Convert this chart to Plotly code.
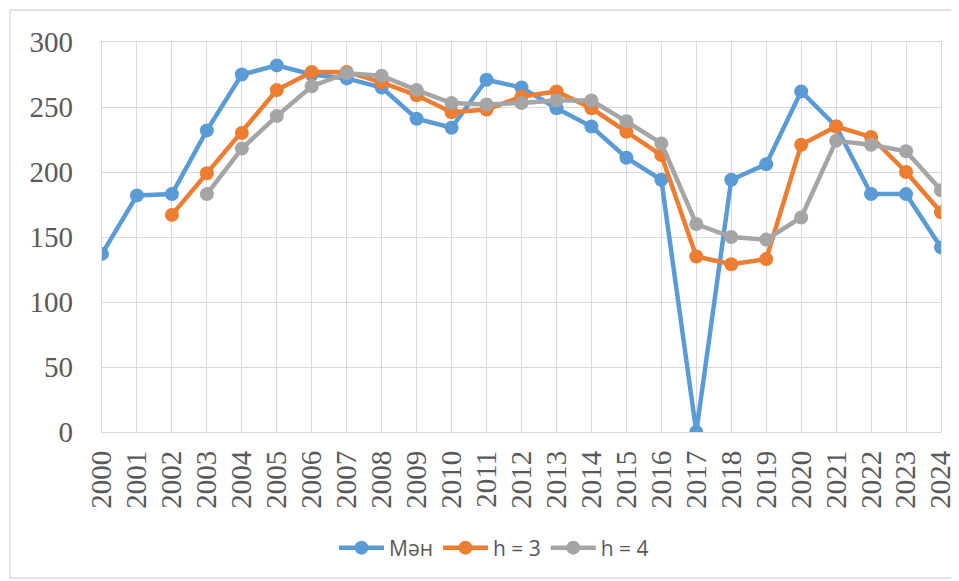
import plotly.graph_objects as go

years = list(range(2000, 2025))
year_labels = [str(y) for y in years]

man = [137, 182, 183, 232, 275, 282, 275, 272, 265, 241, 234, 271, 265, 249, 235, 211, 194,
       0, 194, 206, 262, 235, 183, 183, 142]
h3 = [None, None, 167, 199, 230, 263, 277, 277, 269, 259, 246, 248, 258, 262, 249, 231, 213,
      135, 129, 133, 221, 235, 227, 200, 169]
h4 = [None, None, None, 183, 218, 243, 266, 276, 274, 263, 253, 252, 253, 255, 255, 239, 222,
      160, 150, 148, 165, 224, 221, 216, 186]

series_names = ["Мән", "h = 3", "h = 4"]
series_colors = ["#5B9BD5", "#ED7D31", "#A5A5A5"]
y_ticks = [0, 50, 100, 150, 200, 250, 300]

fig = go.Figure()
for name, vals, col in zip(series_names, [man, h3, h4], series_colors):
    fig.add_trace(go.Scatter(
        x=years, y=vals, name=name, mode="lines+markers",
        line=dict(color=col, width=4.5),
        marker=dict(color=col, size=14),
        connectgaps=False,
    ))

# page body has an 8px margin, so the figure is offset by 8px on screen
OFF = 8
W, H = 959 - OFF, 581 - OFF
SL, SR, ST, SB = 102, 941, 42, 432  # plot area in screen pixels
L, R, T, B = SL - OFF, (OFF + W) - SR, ST - OFF, (OFF + H) - SB
pw, ph = SR - SL, SB - ST

def px_x(p):
    return (p - SL) / pw

def px_y(p):
    return (SB - p) / ph

fig.update_layout(
    width=W, height=H,
    margin=dict(l=L, r=R, t=T, b=B, autoexpand=False),
    paper_bgcolor="white", plot_bgcolor="white",
    showlegend=True,
    legend=dict(
        orientation="h", x=px_x(494), xanchor="center", y=px_y(548), yanchor="middle",
        font=dict(family="Open Sans, Liberation Sans, sans-serif", size=21, color="#595959"),
        itemwidth=45, traceorder="normal", bgcolor="rgba(0,0,0,0)",
    ),
    xaxis=dict(
        range=[2000, 2024], tickmode="array", tickvals=years, ticktext=year_labels,
        tickangle=-90, showgrid=True, gridcolor="#D9D9D9", gridwidth=1.3,
        showline=True, linecolor="#D9D9D9", linewidth=1.3, mirror=True,
        zeroline=False, ticks="", automargin=False,
        tickfont=dict(family="Liberation Serif, Times New Roman, serif", size=29, color="#595959"),
        ticklabelstandoff=6,
    ),
    yaxis=dict(
        range=[0, 300], tickmode="array", tickvals=y_ticks,
        showgrid=True, gridcolor="#D9D9D9", gridwidth=1.3,
        showline=True, linecolor="#D9D9D9", linewidth=1.3, mirror=True,
        zeroline=False, ticks="", automargin=False,
        tickfont=dict(family="Liberation Serif, Times New Roman, serif", size=29, color="#595959"),
        ticklabelstandoff=22,
    ),
    shapes=[dict(
        type="rect", xref="paper", yref="paper",
        x0=px_x(10), x1=px_x(957), y0=px_y(578), y1=px_y(10),
        line=dict(color="#D9D9D9", width=1.3), fillcolor="rgba(0,0,0,0)", layer="below",
    )],
)

fig.write_html("out.html")
